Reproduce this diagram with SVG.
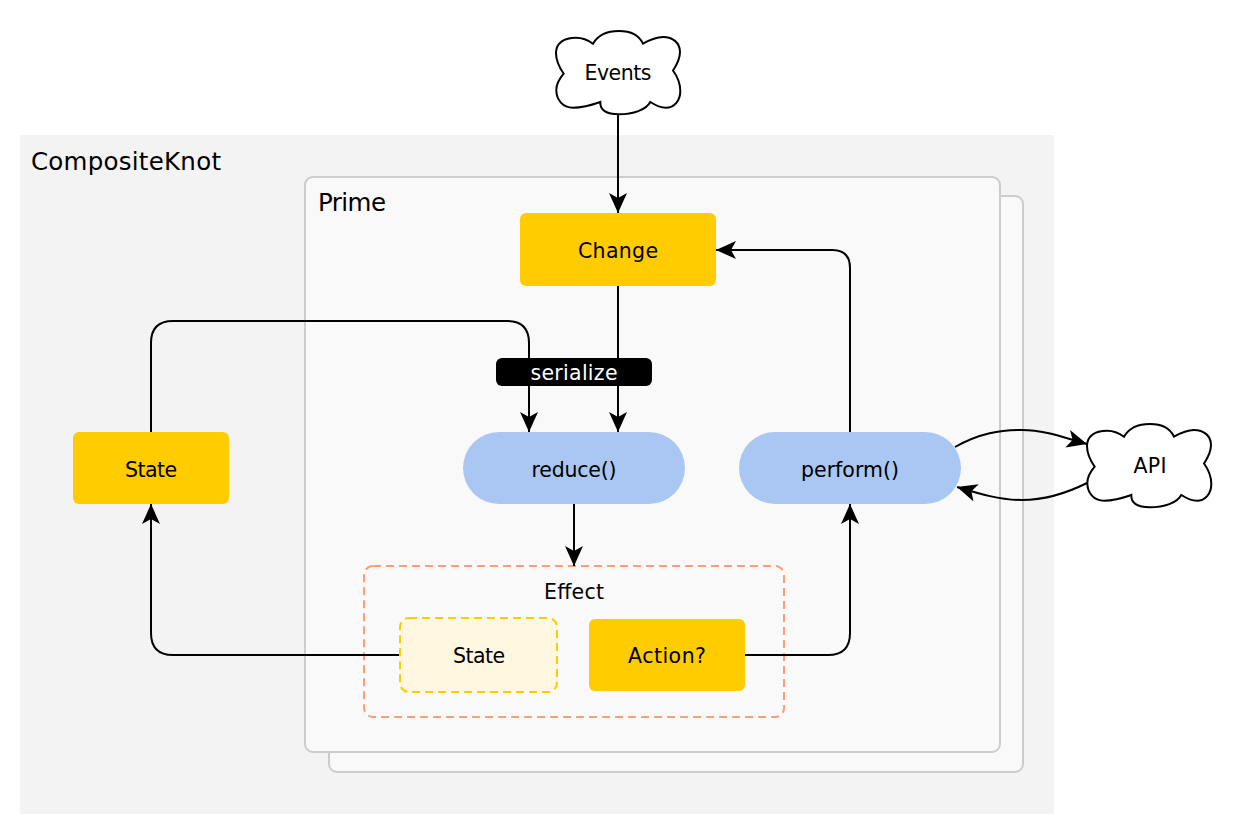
<svg xmlns="http://www.w3.org/2000/svg" width="1240" height="832" viewBox="0 0 1240 832">
<style>
text{font-family:"DejaVu Sans","Liberation Sans",sans-serif;font-size:20.5px;fill:#000;text-anchor:middle}
.big{font-size:24.5px;text-anchor:start}
.frame{fill:#f9f9f9;stroke:#ccc;stroke-width:2}
.gold{fill:#fc0}
.blue{fill:#a9c7f2}
.cloud{fill:#fff;stroke:#000;stroke-width:2}
.wire{fill:none;stroke:#000;stroke-width:2;marker-end:url(#arrow)}
</style>
<defs>
<marker id="arrow" markerUnits="userSpaceOnUse" markerWidth="22" markerHeight="20" refX="20" refY="9" orient="auto"><path d="M0,0L20,9L0,18L5,9z" fill="#000"/></marker>
<path id="cloudShape" d="M7.7,42.7C3,36 0,30 0,22C0,12 8,6.7 20,6.7C27,6.7 32,9 37,12.7C42,4 52,0 63,0C74,0 83,4 87,12.7C94,8.7 100,6 107,6C117,6 124,12 124,21C124,29 120,35 117,39.5C121,45 124.3,52 124.3,60C124.3,70 118,76.7 110,76.7C104,76.7 99,74 94.3,71C90,79 77,83.3 63,83.3C50,83.3 44,79 44.3,71C36,74 26,76.7 17,76.7C7,76.7 0.3,69 0.3,59C0.3,52 4,47 7.7,42.7z"/>
</defs>
<g id="CompositeKnot"><rect x="20" y="135" width="1034" height="679" fill="#f3f3f3"/><text class="big" x="31" y="170" textLength="190">CompositeKnot</text></g>
<g id="PrimeBack"><rect class="frame" x="329" y="196" width="694" height="576" rx="8"/></g>
<g id="Prime"><rect class="frame" x="305" y="177" width="695" height="575" rx="8"/><text class="big" x="318" y="211" textLength="68">Prime</text></g>
<g id="Effect"><rect x="364" y="566" width="420" height="151" rx="9" fill="none" stroke="#ff9d77" stroke-width="2" stroke-dasharray="8 5"/><text x="574" y="599" textLength="60">Effect</text></g>
<g id="connectors">
<path class="wire" d="M618,114V213"/>
<path class="wire" d="M618,286V432"/>
<path class="wire" d="M151,432V343Q151,321 173,321H507Q529,321 529,343V432"/>
<path class="wire" d="M850,432V268Q850,250 832,250H716"/>
<path class="wire" d="M574,504V566"/>
<path class="wire" d="M400,655H173Q151,655 151,633V504"/>
<path class="wire" d="M745,655H828Q850,655 850,633V504"/>
<path class="wire" d="M955,447C980,433 1000,430 1022,430C1045,430 1065,438 1087,444"/>
<path class="wire" d="M1087,483C1065,494 1045,500 1022,500C1000,500 980,494 957,487"/>
</g>
<g id="events"><use href="#cloudShape" class="cloud" x="556" y="31"/><text x="618" y="80" textLength="67">Events</text></g>
<g id="api"><use href="#cloudShape" class="cloud" x="1087" y="424"/><text x="1150" y="473" textLength="33">API</text></g>
<g id="change"><rect class="gold" x="520" y="213" width="196" height="73" rx="6"/><text x="618" y="258" textLength="80">Change</text></g>
<g id="serialize"><rect x="496" y="358" width="156" height="28" rx="6" fill="#000"/><text x="574" y="380" textLength="87" style="fill:#fff">serialize</text></g>
<g id="state"><rect class="gold" x="73" y="432" width="156" height="72" rx="6"/><text x="151" y="477" textLength="52">State</text></g>
<g id="reduce"><rect class="blue" x="463" y="432" width="222" height="72" rx="36"/><text x="574" y="477" textLength="85">reduce()</text></g>
<g id="perform"><rect class="blue" x="739" y="432" width="222" height="72" rx="36"/><text x="850" y="477" textLength="98">perform()</text></g>
<g id="effectState"><rect x="400" y="618" width="157" height="74" rx="9" fill="#fff7e0" stroke="#fc0" stroke-width="2" stroke-dasharray="8 5"/><text x="479" y="663" textLength="52">State</text></g>
<g id="action"><rect class="gold" x="589" y="619" width="156" height="72" rx="6"/><text x="667" y="663" textLength="78">Action?</text></g>
</svg>
